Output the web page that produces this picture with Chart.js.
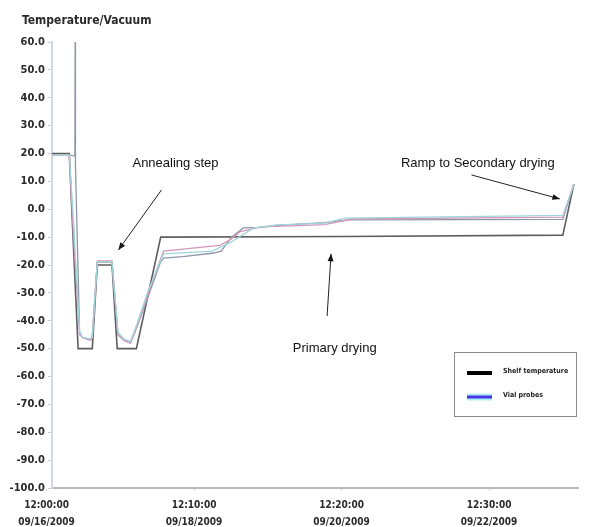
<!DOCTYPE html>
<html>
<head>
<meta charset="utf-8">
<script src="https://cdn.jsdelivr.net/npm/chart.js@4/dist/chart.umd.min.js"></script>
<style>
html,body{margin:0;padding:0;background:#fff;}
#wrap{width:611px;height:527px;position:relative;}
</style>
</head>
<body>
<div id="wrap"><canvas id="c" width="611" height="527"></canvas></div>
<script>
// ---- data (time in minutes from 12:00:00, temperature in °C) ----
const tickMinutes = [0, 10, 20, 30];
const tickTimes = ["12:00:00", "12:10:00", "12:20:00", "12:30:00"];
const tickDates = ["09/16/2009", "09/18/2009", "09/20/2009", "09/22/2009"];

const shelfTime = [0.3, 1.54, 2.14, 3.1, 3.44, 4.44, 4.79, 6.09, 7.74, 20.24, 35.0, 35.75];
const shelfTemp = [20, 20, -50, -50, -20, -20, -50, -50, -10, -9.8, -9.3, 9];

const probeGrayTime = [0.3, 1.54, 1.92, 1.94, 1.96, 2.24, 2.44, 2.99, 3.1, 3.44, 4.44, 4.84, 5.24, 5.69, 6.14, 6.84, 7.72, 7.94, 9.24, 11.34, 11.84, 12.54, 13.34, 14.54, 15.64, 18.84, 20.44, 35.0, 35.75];
const probeGrayTemp = [19.5, 19.5, 19, 60, 16, -44, -46, -47, -46, -19, -19, -45, -47, -48, -42, -32, -19, -17.5, -17, -15.7, -15, -10, -6.7, -6.5, -5.8, -4.8, -3.8, -3.6, 9];

const probePinkTime = [0.3, 1.54, 1.8, 2.24, 2.44, 2.99, 3.1, 3.44, 4.44, 4.84, 5.24, 5.69, 6.14, 6.84, 7.72, 7.94, 9.74, 11.74, 12.44, 13.14, 14.54, 18.84, 20.74, 35.0, 35.75];
const probePinkTemp = [19.5, 19.5, -7, -45, -46, -47, -46, -18.5, -18.5, -45, -47, -48, -42, -31, -18, -15, -14, -13, -11, -8, -6.3, -5.5, -3.5, -2.8, 9];

const probeCyanTime = [0.3, 1.54, 1.84, 2.24, 2.44, 2.99, 3.1, 3.44, 4.44, 4.84, 5.24, 5.69, 6.14, 6.84, 7.72, 7.94, 11.24, 12.44, 14.04, 15.64, 18.84, 20.24, 35.0, 35.75];
const probeCyanTemp = [19.5, 19.5, -5, -44, -46, -46.5, -45.5, -18.8, -18.8, -44, -46.5, -47.5, -41, -30, -18.5, -16, -15, -12, -6.7, -5.6, -5, -3.2, -2.2, 9];

function pts(t, v) { return t.map((x, i) => ({x: x, y: v[i]})); }

// annotations anchored in data coordinates
const notes = [
  {text: "Annealing step", x: 8.74, y: 16.6, ax1: 7.79, ay1: 6.9, ax2: 4.87, ay2: -14.6},
  {text: "Ramp to Secondary drying", x: 29.24, y: 16.6, ax1: 28.81, ay1: 12.3, ax2: 34.8, ay2: 3.7},
  {text: "Primary drying", x: 19.54, y: -49.8, ax1: 19.02, ay1: -38.3, ax2: 19.29, ay2: -16}
];

const NARROW = "'DejaVu Sans Condensed', 'DejaVu Sans', sans-serif";

const overlay = {
  id: 'overlay',
  afterDraw(chart) {
    const ctx = chart.ctx, xs = chart.scales.x, ys = chart.scales.y, ca = chart.chartArea;
    ctx.save();
    // title
    ctx.fillStyle = '#2a2a2a';
    ctx.font = "bold 12px " + NARROW;
    ctx.textBaseline = 'middle';
    ctx.textAlign = 'left';
    ctx.fillText("Temperature/Vacuum", 22, 21);
    // annotations
    ctx.font = "13px 'Liberation Sans', Arial, sans-serif";
    ctx.fillStyle = '#111';
    ctx.textAlign = 'center';
    notes.forEach(n => {
      ctx.fillText(n.text, xs.getPixelForValue(n.x), ys.getPixelForValue(n.y));
      const x1 = xs.getPixelForValue(n.ax1), y1 = ys.getPixelForValue(n.ay1);
      const x2 = xs.getPixelForValue(n.ax2), y2 = ys.getPixelForValue(n.ay2);
      ctx.strokeStyle = '#222'; ctx.lineWidth = 1;
      ctx.beginPath(); ctx.moveTo(x1, y1); ctx.lineTo(x2, y2); ctx.stroke();
      const a = Math.atan2(y2 - y1, x2 - x1), L = 8, w = 0.38;
      ctx.beginPath();
      ctx.moveTo(x2, y2);
      ctx.lineTo(x2 - L * Math.cos(a - w), y2 - L * Math.sin(a - w));
      ctx.lineTo(x2 - L * Math.cos(a + w), y2 - L * Math.sin(a + w));
      ctx.closePath(); ctx.fillStyle = '#111'; ctx.fill();
    });
    // legend box
    const bx = ca.right - 124, by = Math.round(ys.getPixelForValue(-51.2)), bw = 122, bh = 64;
    ctx.fillStyle = '#fff';
    ctx.fillRect(bx, by, bw, bh);
    ctx.strokeStyle = '#8a8a8a'; ctx.lineWidth = 1;
    ctx.strokeRect(bx + 0.5, by + 0.5, bw, bh);
    // shelf sample
    ctx.strokeStyle = '#000'; ctx.lineWidth = 4;
    ctx.beginPath(); ctx.moveTo(bx + 13, by + 21); ctx.lineTo(bx + 38, by + 21); ctx.stroke();
    // vial sample
    ctx.strokeStyle = '#a8eef4'; ctx.lineWidth = 7;
    ctx.beginPath(); ctx.moveTo(bx + 13, by + 45); ctx.lineTo(bx + 38, by + 45); ctx.stroke();
    ctx.strokeStyle = '#4a34e0'; ctx.lineWidth = 3;
    ctx.beginPath(); ctx.moveTo(bx + 13, by + 45); ctx.lineTo(bx + 38, by + 45); ctx.stroke();
    ctx.fillStyle = '#222';
    ctx.font = "bold 7px " + NARROW;
    ctx.textAlign = 'left';
    ctx.fillText("Shelf temperature", bx + 49, by + 19);
    ctx.fillText("Vial probes", bx + 49, by + 43);
    ctx.restore();
  }
};

new Chart(document.getElementById('c'), {
  type: 'line',
  data: {
    datasets: [
      {label: 'Vial probe A', data: pts(probeCyanTime, probeCyanTemp), borderColor: '#9fd6dc', borderWidth: 1.3},
      {label: 'Vial probe B', data: pts(probePinkTime, probePinkTemp), borderColor: '#d597bd', borderWidth: 1.3},
      {label: 'Vial probe C', data: pts(probeGrayTime, probeGrayTemp), borderColor: '#8f97a6', borderWidth: 1.3},
      {label: 'Shelf temperature', data: pts(shelfTime, shelfTemp), borderColor: '#5e5e5e', borderWidth: 1.6}
    ]
  },
  options: {
    responsive: false,
    animation: false,
    elements: {point: {radius: 0}, line: {tension: 0}},
    layout: {padding: {left: 0, top: 42, right: 33, bottom: 0}},
    plugins: {legend: {display: false}, tooltip: {enabled: false}, title: {display: false}},
    scales: {
      x: {
        type: 'linear', min: 0.37, max: 36.03,
        afterBuildTicks: s => { s.ticks = tickMinutes.map(v => ({value: v})); },
        afterFit: s => { s.height = 39; },
        grid: {display: true, drawOnChartArea: false, drawTicks: true, tickLength: 3, color: '#d0d4da'},
        border: {display: true, color: '#b4b8c0', width: 2},
        ticks: {
          maxRotation: 0, autoSkip: false, padding: 6, color: '#2a2a2a',
          font: {family: NARROW, size: 10, weight: 'bold', lineHeight: 1.7},
          callback: v => { const i = tickMinutes.indexOf(v); return i < 0 ? '' : [tickTimes[i], tickDates[i]]; }
        }
      },
      y: {
        min: -100, max: 60,
        afterFit: s => { s.width = 52; },
        grid: {display: true, drawOnChartArea: false, drawTicks: true, tickLength: 4, color: '#c8ccd4'},
        border: {display: true, color: '#d0d8e4', width: 2},
        ticks: {
          stepSize: 10, padding: 3, color: '#2a2a2a',
          font: {family: NARROW, size: 11, weight: 'bold'},
          callback: v => v.toFixed(1)
        }
      }
    }
  },
  plugins: [overlay]
});
</script>
</body>
</html>
